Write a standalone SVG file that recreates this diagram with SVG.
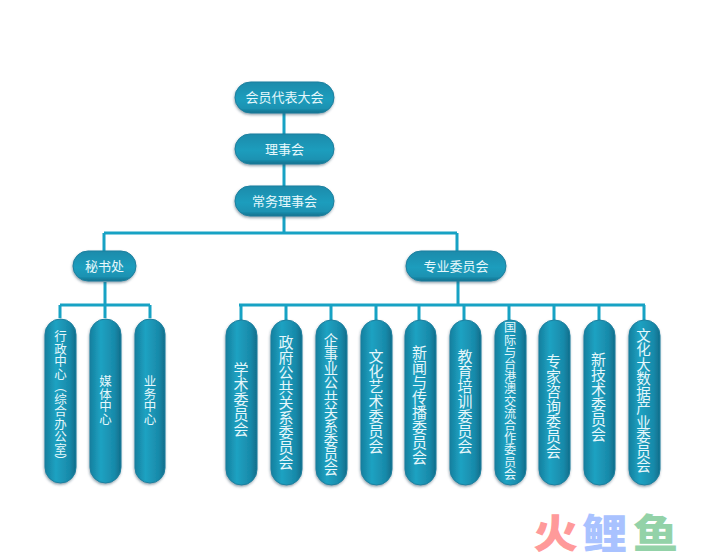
<svg xmlns="http://www.w3.org/2000/svg" width="702" height="560" viewBox="0 0 702 560">
<style>
.c{fill:none;stroke:#17a2c4;stroke-width:3}
.h{fill:url(#gh);stroke:#1b7f9e;stroke-width:1;filter:url(#sh)}
.v{fill:url(#gv);stroke:#1b7f9e;stroke-width:1;filter:url(#sh)}
text{font-family:"Noto Sans CJK SC","Liberation Sans",sans-serif;fill:#e6f7fb}
.t{font-size:13px;text-anchor:middle}
.w{font-size:15px;text-anchor:middle;writing-mode:vertical-rl}
.s{font-size:12.500px}
.m{font-size:40px;font-weight:900}
</style>
<defs>
<linearGradient id="gh" x1="0" y1="0" x2="0" y2="1"><stop offset="0" stop-color="#1a8bab"/><stop offset=".55" stop-color="#1c9dbd"/><stop offset=".85" stop-color="#1a92b2"/><stop offset="1" stop-color="#126f8c"/></linearGradient>
<linearGradient id="gv" x1="0" y1="0" x2="1" y2="0"><stop offset="0" stop-color="#15809f"/><stop offset=".35" stop-color="#1ea2c2"/><stop offset=".8" stop-color="#1889a9"/><stop offset="1" stop-color="#0f6d8a"/></linearGradient>
<filter id="sh" x="-20%" y="-20%" width="140%" height="140%"><feDropShadow dx="-0.5" dy="1.5" stdDeviation="1.2" flood-color="#27485f" flood-opacity=".5"/></filter>
</defs>
<g id="connectors">
<path class="c" d="M284 113V233M104 233H457M104 233V251M457 233V251"/>
<path class="c" d="M105 282V305M60 305H150M60 305V318M105 305V318M150 305V318"/>
<path class="c" d="M458 281V305M239 305H645M241 305V320M286 305V320M331 305V320M376 305V320M419 305V320M464 305V320M509 305V320M554 305V320M599 305V320M644 305V320"/>
</g>
<g id="n1"><rect class="h" x="235" y="82" width="99" height="31" rx="15.500"/><text class="t" x="284.500" y="102">会员代表大会</text></g>
<g id="n2"><rect class="h" x="235" y="134" width="99" height="30" rx="15"/><text class="t" x="284.500" y="154">理事会</text></g>
<g id="n3"><rect class="h" x="235" y="186" width="99" height="30" rx="15"/><text class="t" x="284.500" y="206">常务理事会</text></g>
<g id="n4"><rect class="h" x="73" y="251" width="63" height="30" rx="15"/><text class="t" x="104.500" y="271">秘书处</text></g>
<g id="n5"><rect class="h" x="406" y="251" width="100" height="30" rx="15"/><text class="t" x="456" y="271">专业委员会</text></g>
<g id="a1"><rect class="v" x="45" y="319" width="31" height="164" rx="15.500"/><text class="w s" x="60.500" y="399">行政中心（综合办公室）</text></g>
<g id="a2"><rect class="v" x="90" y="319" width="31" height="164" rx="15.500"/><text class="w s" x="105.500" y="400">媒体中心</text></g>
<g id="a3"><rect class="v" x="135" y="319" width="30" height="164" rx="15"/><text class="w s" x="150" y="400">业务中心</text></g>
<g id="b1"><rect class="v" x="226" y="320" width="31" height="165" rx="15.500"/><text class="w" x="241" y="399">学术委员会</text></g>
<g id="b2"><rect class="v" x="271" y="320" width="31" height="165" rx="15.500"/><text class="w" x="286" y="402.500">政府公共关系委员会</text></g>
<g id="b3"><rect class="v" x="316" y="320" width="31" height="165" rx="15.500"/><text class="w" x="331" y="404.500" style="font-size:14.300px">企事业公共关系委员会</text></g>
<g id="b4"><rect class="v" x="361" y="320" width="31" height="165" rx="15.500"/><text class="w" x="376" y="401">文化艺术委员会</text></g>
<g id="b5"><rect class="v" x="405" y="320" width="31" height="165" rx="15.500"/><text class="w" x="419.500" y="404.500">新闻与传播委员会</text></g>
<g id="b6"><rect class="v" x="450" y="320" width="31" height="165" rx="15.500"/><text class="w" x="465" y="401.500">教育培训委员会</text></g>
<g id="b7"><rect class="v" x="495" y="320" width="31" height="165" rx="15.500"/><text class="w" x="510" y="401" style="font-size:12.200px">国际与台港澳交流合作委员会</text></g>
<g id="b8"><rect class="v" x="539" y="320" width="31" height="165" rx="15.500"/><text class="w" x="553.500" y="406">专家咨询委员会</text></g>
<g id="b9"><rect class="v" x="584" y="320" width="31" height="165" rx="15.500"/><text class="w" x="598.500" y="397">新技术委员会</text></g>
<g id="b10"><rect class="v" x="629" y="320" width="31" height="165" rx="15.500"/><text class="w" x="643.500" y="400.500" style="font-size:14.500px">文化大数据产业委员会</text></g>
<text class="m" transform="translate(533 548) scale(1.13 1)" style="fill:#ff9a9a">火</text>
<text class="m" transform="translate(582 548) scale(1.13 1)" style="fill:#a9c2ff">鲤</text>
<text class="m" transform="translate(633 548) scale(1.13 1)" style="fill:#93d2a8">鱼</text>
</svg>
